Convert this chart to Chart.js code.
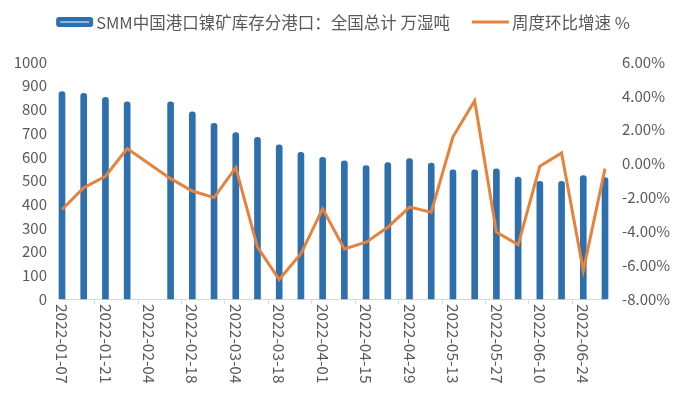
<!DOCTYPE html>
<html>
<head>
<meta charset="utf-8">
<script src="https://cdn.jsdelivr.net/npm/chart.js@4.4.1/dist/chart.umd.min.js"></script>
<style>
  html, body { margin: 0; padding: 0; background: #fff; }
  #wrap { width: 680px; height: 399px; }
</style>
</head>
<body>
<div id="wrap"><canvas id="c"></canvas></div>
<script>
// weekly dates, 2022-01-07 .. 2022-07-01
const weeks = [
  "2022-01-07","2022-01-14","2022-01-21","2022-01-28","2022-02-04","2022-02-11",
  "2022-02-18","2022-02-25","2022-03-04","2022-03-11","2022-03-18","2022-03-25",
  "2022-04-01","2022-04-08","2022-04-15","2022-04-22","2022-04-29","2022-05-06",
  "2022-05-13","2022-05-20","2022-05-27","2022-06-03","2022-06-10","2022-06-17",
  "2022-06-24","2022-07-01"
];
// 万湿吨 (no data the week of 02-04)
const stock = [875, 868, 851, 832, null, 832, 790, 741, 702, 682, 650, 619, 598,
               583, 563, 576, 592, 573, 545, 545, 549, 514, 496, 496, 521, 512];
// 周度环比 %
const wow = [-2.71, -1.42, -0.75, 0.89, null, -0.89, -1.62, -2.01, -0.24, -4.94, -6.85, -5.33, -2.67,
             -5.04, -4.64, -3.76, -2.57, -2.87, 1.58, 3.71, -4.05, -4.80, -0.16, 0.63, -6.32, -0.30];

const BAR_LABEL = "SMM中国港口镍矿库存分港口：全国总计 万湿吨";
const LINE_LABEL = "周度环比增速 %";
const BLUE = "#2e6fae", ORANGE = "#e8823a", TXT = "#595959";
const FONT = "'Noto Sans CJK SC', 'Noto Sans', sans-serif";

// x labels read top-to-bottom, every other week
const xLabels = {
  id: "xLabels",
  afterDraw(chart) {
    const { ctx, chartArea, scales: { x } } = chart;
    ctx.save();
    ctx.fillStyle = TXT;
    ctx.font = "15.5px " + FONT;
    ctx.textAlign = "left";
    ctx.textBaseline = "middle";
    weeks.forEach((w, i) => {
      if (i % 2) return;
      ctx.save();
      ctx.translate(x.getPixelForValue(i), chartArea.bottom + 5);
      ctx.rotate(Math.PI / 2);
      ctx.fillText(w, 0, 0);
      ctx.restore();
    });
    ctx.restore();
  }
};

// excel-like legend at top
const topLegend = {
  id: "topLegend",
  afterDraw(chart) {
    const { ctx } = chart;
    ctx.save();
    ctx.font = "16.5px " + FONT;
    ctx.textBaseline = "middle";
    const w1 = ctx.measureText(BAR_LABEL).width, w2 = ctx.measureText(LINE_LABEL).width;
    const sw = 37, gap = 3, between = 22;
    const total = sw + gap + w1 + between + sw + gap + w2;
    let x0 = 343 - total / 2;
    const y = 22;
    ctx.fillStyle = BLUE;
    ctx.beginPath(); ctx.roundRect(x0, y - 5, sw, 10, 3); ctx.fill();
    ctx.fillStyle = "#8fb6e0";
    ctx.fillRect(x0 + 4, y - 1, sw - 8, 2);
    ctx.fillStyle = TXT;
    ctx.fillText(BAR_LABEL, x0 + sw + gap, y + 1);
    x0 += sw + gap + w1 + between;
    ctx.strokeStyle = ORANGE; ctx.lineWidth = 3;
    ctx.beginPath(); ctx.moveTo(x0, y); ctx.lineTo(x0 + sw, y); ctx.stroke();
    ctx.fillText(LINE_LABEL, x0 + sw + gap, y + 1);
    ctx.restore();
  }
};

new Chart(document.getElementById("c"), {
  data: {
    labels: weeks,
    datasets: [
      { type: "line", label: LINE_LABEL, data: wow, yAxisID: "y1", borderColor: ORANGE, borderWidth: 3,
        pointRadius: 0, tension: 0, spanGaps: true, order: 0 },
      { type: "bar", label: BAR_LABEL, data: stock, yAxisID: "y", backgroundColor: BLUE, barThickness: 6,
        borderRadius: { topLeft: 3, topRight: 3 }, borderSkipped: "bottom", clip: false, order: 1 },
    ],
  },
  options: {
    responsive: true, maintainAspectRatio: false, animation: false,
    layout: { padding: { top: 62, left: 12, right: 10, bottom: 95 } },
    plugins: { legend: { display: false }, tooltip: { enabled: false } },
    scales: {
      x: {
        offset: false,
        grid: { drawOnChartArea: false, drawTicks: true, tickLength: 5,
                color: c => (c.index % 2 === 0 ? "#d9d9d9" : "rgba(0,0,0,0)") },
        border: { display: true, color: "#d9d9d9" },
        ticks: { display: false, autoSkip: false },
      },
      y: {
        position: "left", min: 0, max: 1000,
        grid: { display: false, drawTicks: false }, border: { display: false },
        ticks: { stepSize: 100, color: TXT, font: { size: 15, family: FONT }, padding: 15,
                 callback: v => String(v) },
        afterFit: s => { s.width = 50; },
      },
      y1: {
        position: "right", min: -8, max: 6,
        grid: { display: false, drawTicks: false }, border: { display: false },
        ticks: { stepSize: 2, color: TXT, font: { size: 15, family: FONT }, padding: 17,
                 callback: v => v.toFixed(2) + "%" },
        afterFit: s => { s.width = 65; },
      },
    },
  },
  plugins: [xLabels, topLegend],
});
</script>
</body>
</html>
